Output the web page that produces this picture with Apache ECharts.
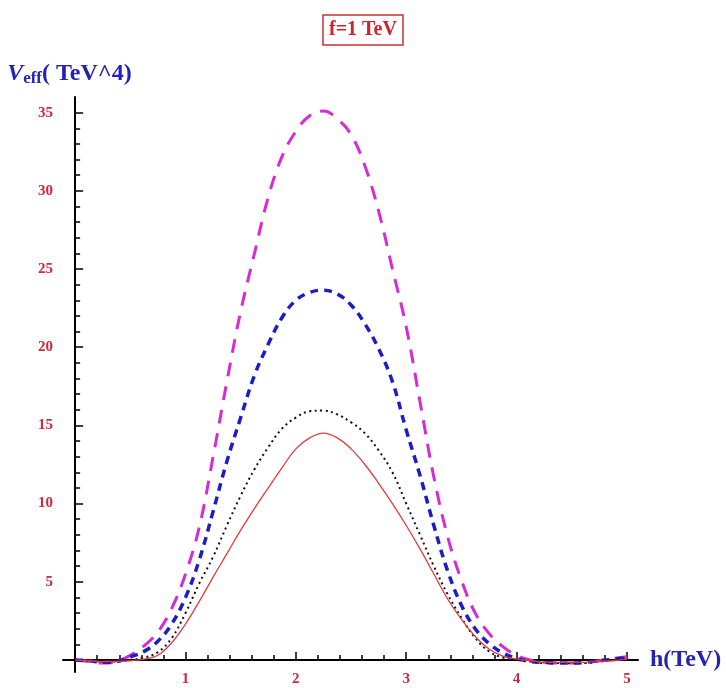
<!DOCTYPE html>
<html>
<head>
<meta charset="utf-8">
<script src="https://cdn.jsdelivr.net/npm/echarts@6/dist/echarts.min.js"></script>
<style>
  html, body { margin: 0; padding: 0; background: #fff; }
  #chart { width: 726px; height: 688px; }
</style>
</head>
<body>
<div id="chart"></div>
<script>
// h 取值 (TeV)，步长 0.125
var hValues = [0, 0.125, 0.25, 0.375, 0.5, 0.625, 0.75, 0.875, 1, 1.125, 1.25, 1.375, 1.5, 1.625, 1.75, 1.875, 2, 2.125, 2.25, 2.375, 2.5,
	2.625, 2.75, 2.875, 3, 3.125, 3.25, 3.375, 3.5, 3.625, 3.75, 3.875, 4, 4.125, 4.25, 4.375, 4.5, 4.625, 4.75, 4.875, 5];
// 四条曲线 V_eff (TeV^4)
var magentaV = [0, -0.1, -0.2, -0.1, 0.3, 0.9, 1.8, 3.3, 5.5, 8.5, 13.0, 17.8, 22.3, 26.0, 29.6, 32.2, 33.8, 34.8, 35.1, 34.6, 33.6,
	31.6, 28.7, 25.0, 21.3, 16.5, 11.7, 7.9, 5.1, 3.0, 1.7, 0.85, 0.3, 0.0, -0.15, -0.2, -0.2, -0.15, -0.05, 0.1, 0.2];
var blueV = [0, -0.05, -0.15, -0.1, 0.2, 0.55, 1.2, 2.3, 4.0, 6.4, 9.5, 12.7, 15.5, 18.2, 20.2, 21.9, 23.0, 23.5, 23.65, 23.4, 22.7,
	21.5, 19.9, 17.8, 14.7, 11.8, 8.6, 5.7, 3.5, 2.0, 1.05, 0.45, 0.1, -0.1, -0.15, -0.2, -0.2, -0.15, -0.05, 0.05, 0.15];
var blackV = [0, -0.05, -0.1, -0.1, 0, 0.15, 0.5, 1.4, 3.0, 4.9, 6.6, 8.6, 10.5, 12.2, 13.6, 14.8, 15.5, 15.9, 15.95, 15.7, 15.2,
	14.5, 13.4, 12.0, 10.0, 8.0, 6.0, 4.2, 2.7, 1.4, 0.55, 0.15, 0, -0.1, -0.2, -0.2, -0.2, -0.2, -0.1, 0, 0.1];
var redV = [0, -0.05, -0.1, -0.1, -0.05, 0.05, 0.3, 1.1, 2.3, 3.75, 5.3, 6.8, 8.3, 9.7, 11.0, 12.3, 13.5, 14.2, 14.5, 14.2, 13.5,
	12.5, 11.3, 10.0, 8.6, 7.1, 5.5, 3.9, 2.6, 1.5, 0.7, 0.25, 0.05, -0.05, -0.15, -0.15, -0.15, -0.15, -0.1, -0.05, 0.05];

// 刻度
var xMajor = [1, 2, 3, 4, 5];
var xMinor = [0.2, 0.4, 0.6, 0.8, 1.2, 1.4, 1.6, 1.8, 2.2, 2.4, 2.6, 2.8, 3.2, 3.4, 3.6, 3.8, 4.2, 4.4, 4.6, 4.8];
var yMajor = [5, 10, 15, 20, 25, 30, 35];
var yMinor = [1, 2, 3, 4, 6, 7, 8, 9, 11, 12, 13, 14, 16, 17, 18, 19, 21, 22, 23, 24, 26, 27, 28, 29, 31, 32, 33, 34];

var serif = 'Liberation Serif';
var labelRed = '#d0283c';
var nameBlue = '#2323b4';

function pairs(ys) {
	return hValues.map(function(h, i) {
		return [h, ys[i]];
	});
}

var chart = echarts.init(document.getElementById('chart'));

var baseX = {
	type: 'value',
	min: -0.11,
	max: 5.1,
	position: 'bottom',
	splitLine: { show: false }
};
var baseY = {
	type: 'value',
	min: -0.77,
	max: 36,
	position: 'left',
	splitLine: { show: false }
};

var option = {
	backgroundColor: '#fff',
	animation: false,
	title: {
		text: 'f=1 TeV',
		left: 'center',
		top: 15,
		padding: [5, 6],
		borderColor: '#c83030',
		borderWidth: 1.5,
		textStyle: {
			color: '#d4202a',
			fontFamily: serif,
			fontWeight: 'bold',
			fontSize: 20
		}
	},
	grid: {
		left: 63,
		right: 88,
		top: 97,
		bottom: 16,
		containLabel: false,
		outerBoundsMode: 'none'
	},
	xAxis: [
		Object.assign({}, baseX, {
			axisLine: { onZero: true, onZeroAxisIndex: 0, lineStyle: { color: '#000', width: 2 } },
			axisTick: { inside: true, length: 8, customValues: xMajor, lineStyle: { color: '#000', width: 1.5 } },
			axisLabel: { customValues: xMajor, color: labelRed, fontFamily: serif, fontWeight: 'bold', fontSize: 15, margin: 0 },
			name: 'h(TeV)',
			nameLocation: 'end',
			nameGap: 12,
			nameTextStyle: { color: nameBlue, fontFamily: serif, fontWeight: 'bold', fontSize: 24 }
		}),
		Object.assign({}, baseX, {
			axisLine: { show: false, onZero: true, onZeroAxisIndex: 0 },
			axisTick: { inside: true, length: 5, customValues: xMinor, lineStyle: { color: '#000', width: 1.5 } },
			axisLabel: { show: false }
		})
	],
	yAxis: [
		Object.assign({}, baseY, {
			axisLine: { onZero: true, onZeroAxisIndex: 0, lineStyle: { color: '#000', width: 2 } },
			axisTick: { inside: true, length: 8, customValues: yMajor, lineStyle: { color: '#000', width: 1.5 } },
			axisLabel: { customValues: yMajor, color: labelRed, fontFamily: serif, fontWeight: 'bold', fontSize: 15, margin: 10 },
			name: '{v|V}{sub|eff}{n|( TeV^4)}',
			nameLocation: 'end',
			nameGap: 10,
			nameTextStyle: {
				align: 'left',
				padding: [0, 0, 0, -68],
				rich: {
					v: { color: nameBlue, fontFamily: serif, fontStyle: 'italic', fontWeight: 'bold', fontSize: 24 },
					sub: { color: nameBlue, fontFamily: serif, fontWeight: 'bold', fontSize: 17, padding: [10, 0, 0, 0] },
					n: { color: nameBlue, fontFamily: serif, fontWeight: 'bold', fontSize: 24 }
				}
			}
		}),
		Object.assign({}, baseY, {
			axisLine: { show: false, onZero: true, onZeroAxisIndex: 0 },
			axisTick: { inside: true, length: 5, customValues: yMinor, lineStyle: { color: '#000', width: 1.5 } },
			axisLabel: { show: false }
		})
	],
	series: [{
		name: 'magenta',
		type: 'line',
		symbol: 'none',
		smooth: 0.4,
		data: pairs(magentaV),
		lineStyle: { color: '#d62ad6', width: 3, type: [14, 10] }
	}, {
		name: 'blue',
		type: 'line',
		symbol: 'none',
		smooth: 0.4,
		data: pairs(blueV),
		lineStyle: { color: '#1c1cc8', width: 3.5, type: [8, 6] }
	}, {
		name: 'black',
		type: 'line',
		symbol: 'none',
		smooth: 0.4,
		data: pairs(blackV),
		lineStyle: { color: '#111', width: 2, type: [2, 3.5] }
	}, {
		name: 'red',
		type: 'line',
		symbol: 'none',
		smooth: 0.4,
		data: pairs(redV),
		lineStyle: { color: '#e03c3c', width: 1.3 }
	}]
};
chart.setOption(option);
</script>
</body>
</html>
